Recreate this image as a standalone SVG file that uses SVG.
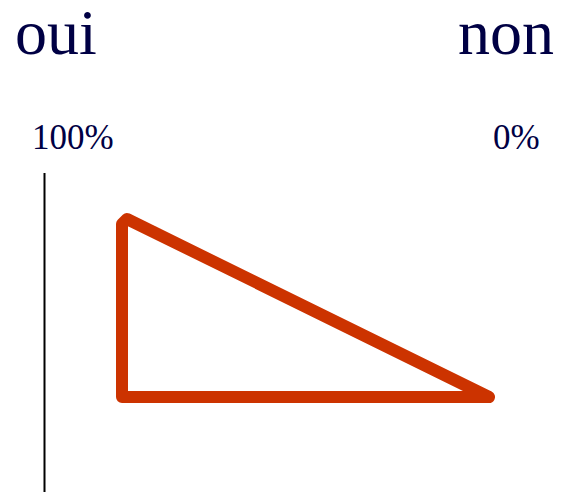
<svg xmlns="http://www.w3.org/2000/svg" width="585" height="492" viewBox="0 0 585 492">
<style>
.t{font-family:"Liberation Serif","Times New Roman",serif;fill:#000044}
.big{font-size:64px}
.small{font-size:35px}
</style>
<rect width="585" height="492" fill="#fff"/>
<g id="label-oui"><text class="t big" x="15" y="54">oui</text></g>
<g id="label-non"><text class="t big" x="458" y="54">non</text></g>
<g id="label-100"><text class="t small" x="32" y="149">100%</text></g>
<g id="label-0"><text class="t small" x="493" y="149">0%</text></g>
<g id="axis"><line x1="44.5" y1="173" x2="44.5" y2="492" stroke="#000" stroke-width="2"/></g>
<g id="triangle"><path d="M122,397 L122,224 L127,219 L489,397 Z" fill="none" stroke="#cc3300" stroke-width="12" stroke-linejoin="round" stroke-linecap="round"/></g>
</svg>
